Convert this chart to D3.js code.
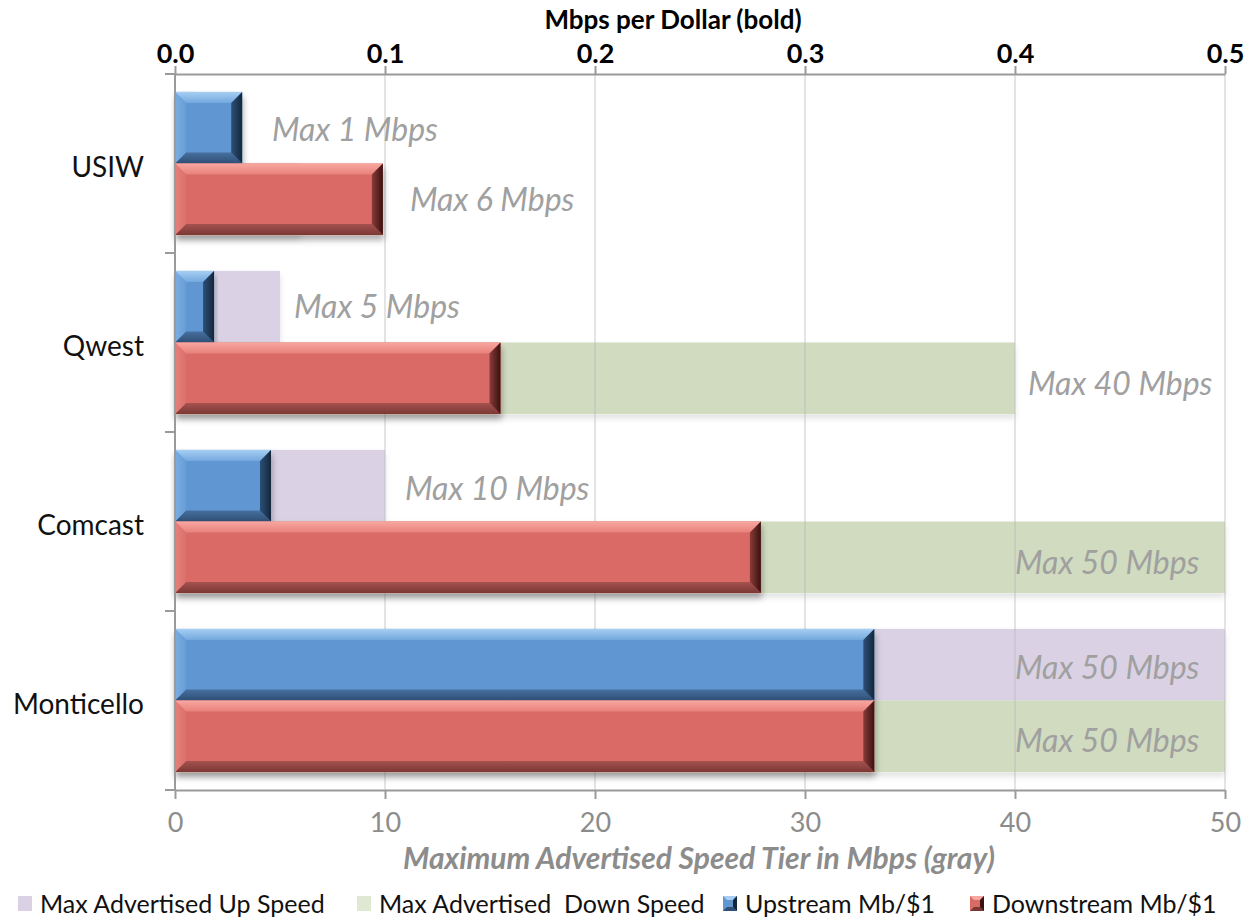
<!DOCTYPE html>
<html><head><meta charset="utf-8">
<script src="https://cdn.jsdelivr.net/npm/d3@7"></script>
<style>body{margin:0;background:#fff} text{font-family:Lato,"Open Sans",sans-serif}</style>
</head><body><svg id="c" width="1250" height="920"></svg>
<script>
// ---------- data ----------
const categories = ["USIW", "Qwest", "Comcast", "Monticello"];
const maxUpSpeed = [1, 5, 10, 50];            // Mbps (bottom axis, gray bars)
const maxDownSpeed = [6, 40, 50, 50];         // Mbps (bottom axis, gray bars)
const upstreamPerDollar = [0.032, 0.0186, 0.0457, 0.333];   // Mbps per $ (top axis)
const downstreamPerDollar = [0.099, 0.155, 0.279, 0.333];   // Mbps per $ (top axis)
const bottomTicks = [0, 10, 20, 30, 40, 50];
const topTicks = [0, 0.1, 0.2, 0.3, 0.4, 0.5];
const topTitle = "Mbps per Dollar (bold)";
const bottomTitle = "Maximum Advertised Speed Tier in Mbps (gray)";
const legendLabels = ["Max Advertised Up Speed", "Max Advertised  Down Speed", "Upstream Mb/$1", "Downstream Mb/$1"];

// ---------- layout (not data) ----------
const L = 175, R = 1225, T = 74, B = 790;
const upLabelShift = [[76, 2], [14, 0], [20, 3], [-210, 3]];
const downLabelShift = [[109, 0], [13, 5], [-210, 5], [-210, 4]];
const legendX = [18, 357, 723, 970];

const svg = d3.select("#c");
const defs = svg.append("defs");

const xBottom = d3.scaleLinear().domain([0, 50]).range([L, R]);
const xTop = d3.scaleLinear().domain([0, 0.5]).range([L, R]);
const y0 = d3.scaleBand().domain(categories).range([T, B]).padding(0);
const pad = y0.bandwidth() * 0.1;
const y1 = d3.scaleBand().domain(["up", "down"]).range([pad, y0.bandwidth() - pad]).padding(0);

// filters
const f1 = defs.append("filter").attr("id", "sh").attr("x", "-5%").attr("y", "-20%").attr("width", "115%").attr("height", "160%");
f1.append("feDropShadow").attr("dx", 1).attr("dy", 5).attr("stdDeviation", 3).attr("flood-color", "#000").attr("flood-opacity", 0.32);
const f2 = defs.append("filter").attr("id", "sh2").attr("x", "-5%").attr("y", "-20%").attr("width", "115%").attr("height", "160%");
f2.append("feDropShadow").attr("dx", 0).attr("dy", 4).attr("stdDeviation", 3).attr("flood-color", "#000").attr("flood-opacity", 0.12);

// gradients for bevels
const palettes = {
  blue: {face: "#6097d2", top: ["#a6cff3", "#74a8de"], left: ["#7aaee2", "#679dd6"], bottom: ["#466f9e", "#2f4f75"], right: ["#2c5079", "#15263a"]},
  red: {face: "#d96b66", top: ["#f8a7a0", "#e8817b"], left: ["#e5807a", "#db706b"], bottom: ["#a5524e", "#7a3835"], right: ["#8a3b38", "#3a1211"]}
};
function grad(id, c, x1, y1_, x2, y2) {
  const g = defs.append("linearGradient").attr("id", id)
    .attr("x1", x1).attr("y1", y1_).attr("x2", x2).attr("y2", y2);
  g.append("stop").attr("offset", "0%").attr("stop-color", c[0]);
  g.append("stop").attr("offset", "100%").attr("stop-color", c[1]);
}
Object.entries(palettes).forEach(([k, p]) => {
  grad(k + "-top", p.top, 0, 0, 0, 1);
  grad(k + "-left", p.left, 0, 0, 1, 0);
  grad(k + "-bottom", p.bottom, 0, 0, 0, 1);
  grad(k + "-right", p.right, 0, 0, 1, 0);
});

function bevelBar(g, x0, x1, ya, yb, pal, bsize) {
  const b = Math.min(bsize, (x1 - x0) / 2, (yb - ya) / 2);
  const gg = g.append("g").attr("filter", "url(#sh)");
  gg.append("rect").attr("x", x0).attr("y", ya).attr("width", x1 - x0).attr("height", yb - ya).attr("fill", palettes[pal].face);
  const poly = (pts, fill) => gg.append("polygon").attr("points", pts.map(p => p.join(",")).join(" ")).attr("fill", fill);
  poly([[x0, ya], [x1, ya], [x1 - b, ya + b], [x0 + b, ya + b]], `url(#${pal}-top)`);
  poly([[x0 + b, yb - b], [x1 - b, yb - b], [x1, yb], [x0, yb]], `url(#${pal}-bottom)`);
  poly([[x0, ya], [x0 + b, ya + b], [x0 + b, yb - b], [x0, yb]], `url(#${pal}-left)`);
  poly([[x1 - b, ya + b], [x1, ya], [x1, yb], [x1 - b, yb - b]], `url(#${pal}-right)`);
}

// ---------- gray background bars ----------
const gBg = svg.append("g");
categories.forEach((c, i) => {
  gBg.append("rect").attr("x", xBottom(0)).attr("y", y0(c) + y1("up"))
    .attr("width", xBottom(maxUpSpeed[i]) - xBottom(0)).attr("height", y1.bandwidth())
    .attr("fill", "#dad2e4").attr("filter", "url(#sh2)");
  gBg.append("rect").attr("x", xBottom(0)).attr("y", y0(c) + y1("down"))
    .attr("width", xBottom(maxDownSpeed[i]) - xBottom(0)).attr("height", y1.bandwidth())
    .attr("fill", "#d0dbbf").attr("filter", "url(#sh2)");
});

// ---------- gridlines ----------
svg.append("g").selectAll("line").data(bottomTicks.slice(1)).join("line")
  .attr("x1", d => xBottom(d)).attr("x2", d => xBottom(d)).attr("y1", T).attr("y2", B)
  .attr("stroke", "#b8b8b8").attr("stroke-opacity", 0.5).attr("stroke-width", 1.5);

// ---------- foreground beveled bars ----------
const gFg = svg.append("g");
categories.forEach((c, i) => {
  bevelBar(gFg, xTop(0), xTop(upstreamPerDollar[i]), y0(c) + y1("up"), y0(c) + y1("up") + y1.bandwidth(), "blue", 11);
  bevelBar(gFg, xTop(0), xTop(downstreamPerDollar[i]), y0(c) + y1("down"), y0(c) + y1("down") + y1.bandwidth(), "red", 11);
});

// ---------- data labels ----------
const gLab = svg.append("g").attr("font-style", "italic").attr("font-size", 32).attr("fill", "#a0a0a0");
categories.forEach((c, i) => {
  gLab.append("text").attr("x", xBottom(maxUpSpeed[i]) + upLabelShift[i][0])
    .attr("y", y0(c) + y1("up") + y1.bandwidth() / 2 + upLabelShift[i][1]).attr("dy", "0.35em")
    .text(`Max ${maxUpSpeed[i]} Mbps`);
  gLab.append("text").attr("x", xBottom(maxDownSpeed[i]) + downLabelShift[i][0])
    .attr("y", y0(c) + y1("down") + y1.bandwidth() / 2 + downLabelShift[i][1]).attr("dy", "0.35em")
    .text(`Max ${maxDownSpeed[i]} Mbps`);
});

// ---------- axes ----------
const axisColor = "#9a9a9a";
const gTop = svg.append("g").attr("transform", `translate(0,${T})`)
  .call(d3.axisTop(xTop).tickValues(topTicks).tickFormat(d3.format(".1f")).tickSize(8).tickSizeOuter(0));
gTop.selectAll("path,line").attr("stroke", axisColor).attr("stroke-width", 2);
gTop.selectAll("text").attr("font-size", 27).attr("font-weight", "bold").attr("fill", "#000").attr("font-family", "Lato");

const gBot = svg.append("g").attr("transform", `translate(0,${B})`)
  .call(d3.axisBottom(xBottom).tickValues(bottomTicks).tickSize(9).tickSizeOuter(0));
gBot.selectAll("path,line").attr("stroke", axisColor).attr("stroke-width", 2);
gBot.selectAll("text").attr("font-size", 27).attr("fill", "#8c8c8c").attr("font-family", "Lato").attr("dy", "1.1em");

// left category axis
const gLeft = svg.append("g");
gLeft.append("line").attr("x1", L).attr("x2", L).attr("y1", T).attr("y2", B).attr("stroke", axisColor).attr("stroke-width", 2);
const bounds = categories.map(c => y0(c)).concat([y0(categories[categories.length - 1]) + y0.bandwidth()]);
gLeft.selectAll("line.tk").data(bounds).join("line").attr("class", "tk")
  .attr("x1", L - 10).attr("x2", L).attr("y1", d => d).attr("y2", d => d)
  .attr("stroke", axisColor).attr("stroke-width", 2);
gLeft.selectAll("text").data(categories).join("text")
  .attr("x", L - 31).attr("y", d => y0(d) + y0.bandwidth() / 2 + 4).attr("dy", "0.35em")
  .attr("text-anchor", "end").attr("font-size", 28).attr("fill", "#111").text(d => d);

// titles
svg.append("text").attr("x", 673).attr("y", 20).attr("dy", "0.35em").attr("text-anchor", "middle")
  .attr("font-size", 26).attr("font-weight", "bold").attr("fill", "#000").text(topTitle);
svg.append("text").attr("x", 699).attr("y", 858).attr("dy", "0.35em").attr("text-anchor", "middle")
  .attr("font-size", 30).attr("font-weight", "bold").attr("font-style", "italic").attr("fill", "#8c8c8c").text(bottomTitle);

// ---------- legend ----------
const gLeg = svg.append("g");
const legendKinds = ["purple", "green", "blue", "red"];
legendLabels.forEach((lab, i) => {
  const x = legendX[i], yc = 904;
  const k = legendKinds[i];
  if (k === "purple" || k === "green") {
    gLeg.append("rect").attr("x", x).attr("y", yc - 8).attr("width", 14).attr("height", 15)
      .attr("fill", k === "purple" ? "#dad2e4" : "#dfe8d2");
  } else {
    const p = palettes[k];
    const x0 = x, x1 = x + 14, ya = yc - 8, yb = yc + 7, b = 4;
    gLeg.append("rect").attr("x", x0).attr("y", ya).attr("width", 14).attr("height", 15).attr("fill", p.face);
    const poly = (pts, fill) => gLeg.append("polygon").attr("points", pts.map(q => q.join(",")).join(" ")).attr("fill", fill);
    poly([[x0, ya], [x1, ya], [x1 - b, ya + b], [x0 + b, ya + b]], p.top[0]);
    poly([[x0 + b, yb - b], [x1 - b, yb - b], [x1, yb], [x0, yb]], p.bottom[1]);
    poly([[x1 - b, ya + b], [x1, ya], [x1, yb], [x1 - b, yb - b]], p.right[1]);
  }
  gLeg.append("text").attr("x", x + 22).attr("y", yc).attr("dy", "0.35em")
    .attr("font-size", 25).attr("fill", "#111").style("white-space", "pre").text(lab);
});
</script></body></html>
